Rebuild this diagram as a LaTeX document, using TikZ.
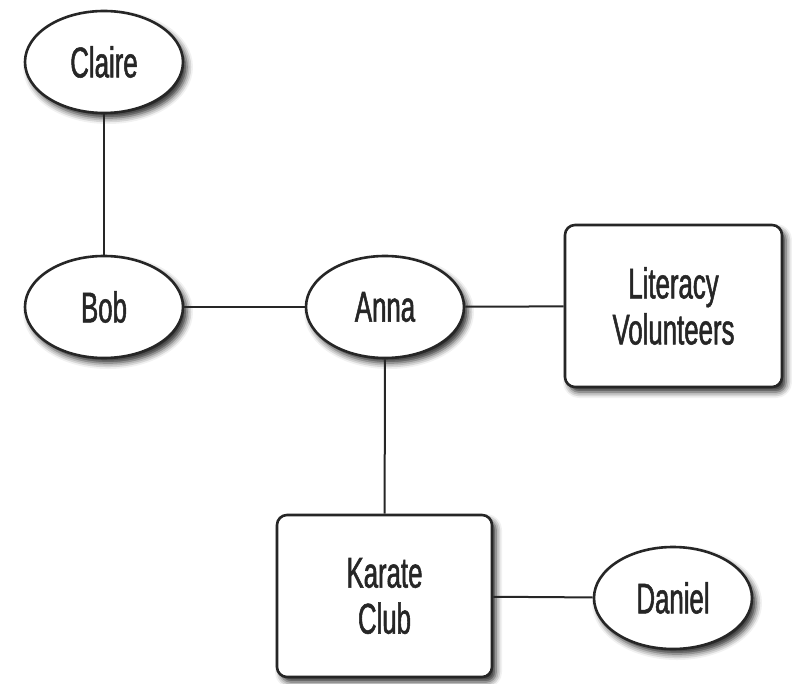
\documentclass[tikz,border=0pt]{standalone}
\usepackage{fontspec}
\newfontfamily\narrowsans[FakeStretch=0.6,FakeBold=1.2]{Liberation Sans}
\usetikzlibrary{shapes.geometric,shadows.blur}
\definecolor{ink}{HTML}{262626}
\tikzset{
  x=1pt, y=-1pt,
  base/.style={draw=ink, line width=2.6pt, fill=white, text=ink, inner sep=0pt,
    font=\narrowsans\fontsize{43}{46}\selectfont, align=center,
    blur shadow={shadow xshift=4pt, shadow yshift=-5pt, shadow blur radius=6pt, shadow opacity=85}},
  person/.style={base, ellipse, minimum width=158pt, minimum height=102pt},
  group/.style={base, rectangle, rounded corners=10pt, minimum height=162pt},
  tie/.style={draw=ink, line width=2pt}
}
\begin{document}
\begin{tikzpicture}
\useasboundingbox (0,0) rectangle (792,684);
\node[person] (claire) at (104,62) {Claire};
\node[person] (bob) at (104,307) {Bob};
\node[person] (anna) at (385,307) {Anna};
\node[group, minimum width=217pt] (lit) at (673.5,306) {Literacy\\Volunteers};
\node[group, minimum width=215pt] (karate) at (384.5,596) {Karate\\Club};
\node[person] (daniel) at (673,598) {Daniel};
\draw[tie] (claire) -- (bob);
\draw[tie] (bob) -- (anna);
\draw[tie] (anna) -- (lit);
\draw[tie] (anna) -- (karate);
\draw[tie] (karate) -- (daniel);
\end{tikzpicture}
\end{document}
